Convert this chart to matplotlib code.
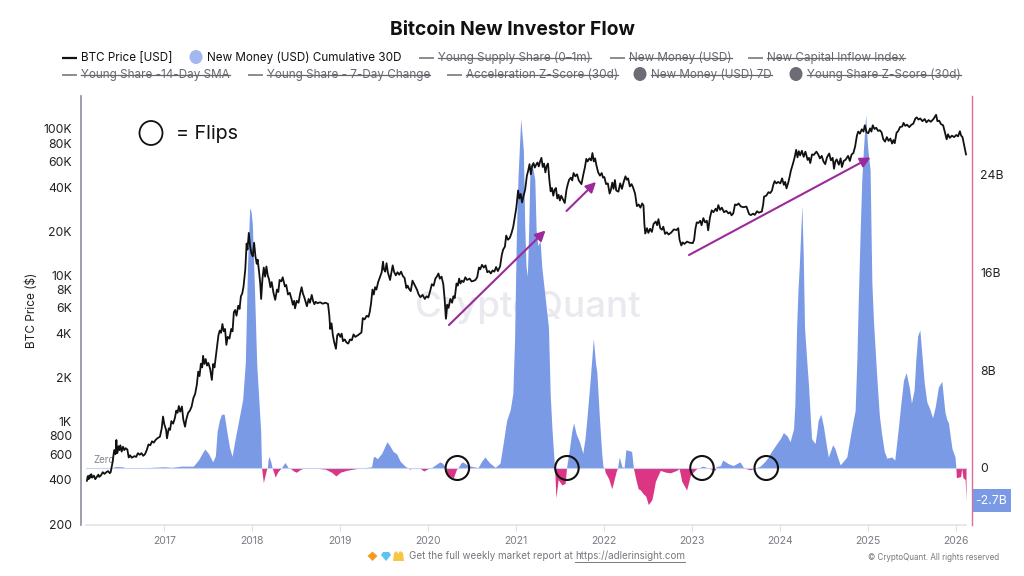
import matplotlib
matplotlib.use("Agg")
import matplotlib.pyplot as plt
from matplotlib.patches import Ellipse, Polygon, Rectangle

plt.rcParams["font.family"] = ["Inter", "DejaVu Sans"]

# BTC price, (decimal year, USD)
btc_2016 = [(2016.12, 395), (2016.13, 425), (2016.14, 405), (2016.15, 430), (2016.16, 415), (2016.17, 438), (2016.18, 415),
            (2016.2, 428), (2016.215, 405), (2016.23, 418), (2016.25, 435), (2016.26, 420), (2016.28, 430), (2016.3, 452),
            (2016.32, 440), (2016.34, 452), (2016.36, 460), (2016.38, 445), (2016.39, 452), (2016.41, 520), (2016.43, 640),
            (2016.445, 600), (2016.455, 750), (2016.465, 610), (2016.48, 680), (2016.49, 640), (2016.5, 690), (2016.515, 625),
            (2016.53, 675), (2016.545, 640), (2016.56, 660), (2016.58, 645), (2016.595, 570), (2016.61, 590), (2016.63, 568),
            (2016.66, 582), (2016.68, 575), (2016.7, 610), (2016.72, 595), (2016.74, 610), (2016.76, 585), (2016.78, 600),
            (2016.8, 640), (2016.82, 700), (2016.84, 690), (2016.86, 735), (2016.88, 720), (2016.9, 750), (2016.92, 770),
            (2016.95, 790), (2016.97, 900), (2016.985, 1085)]
btc_2017 = [(2017.0, 960), (2017.02, 880), (2017.03, 770), (2017.05, 900), (2017.065, 880), (2017.08, 1010), (2017.1, 970),
            (2017.12, 1060), (2017.135, 1190), (2017.15, 1150), (2017.165, 1280), (2017.18, 1170), (2017.2, 1270),
            (2017.215, 1040), (2017.235, 925), (2017.25, 1040), (2017.27, 1150), (2017.29, 1190), (2017.31, 1270),
            (2017.33, 1450), (2017.35, 1550), (2017.37, 1800), (2017.385, 2200), (2017.4, 2050), (2017.415, 2490),
            (2017.43, 2350), (2017.44, 2820), (2017.455, 2480), (2017.47, 2680), (2017.485, 2420), (2017.5, 2520),
            (2017.52, 2300), (2017.54, 1930), (2017.555, 2480), (2017.57, 2350), (2017.585, 2800), (2017.6, 3300),
            (2017.615, 3900), (2017.63, 4200), (2017.645, 4050), (2017.66, 4650), (2017.675, 4150), (2017.69, 4300),
            (2017.705, 3350), (2017.72, 3800), (2017.74, 3700), (2017.76, 4300), (2017.775, 4150), (2017.79, 5600),
            (2017.805, 5800), (2017.82, 5300), (2017.84, 6200), (2017.855, 5900), (2017.87, 7200), (2017.885, 7500),
            (2017.9, 8400), (2017.92, 11000), (2017.935, 16500), (2017.945, 15000), (2017.96, 19500), (2017.975, 15800),
            (2017.99, 14100)]
btc_2018 = [(2018.005, 13500), (2018.02, 16700), (2018.035, 13500), (2018.05, 12000), (2018.06, 12800), (2018.075, 10800),
            (2018.09, 8800), (2018.1, 6900), (2018.115, 9500), (2018.13, 11300), (2018.145, 9800), (2018.16, 11500),
            (2018.175, 10000), (2018.19, 9400), (2018.205, 8300), (2018.22, 9000), (2018.24, 7600), (2018.26, 6800),
            (2018.28, 8000), (2018.295, 7700), (2018.31, 9300), (2018.33, 9100), (2018.345, 9700), (2018.37, 8400),
            (2018.385, 8600), (2018.405, 7400), (2018.425, 7600), (2018.445, 6900), (2018.46, 6300), (2018.475, 6700),
            (2018.485, 5950), (2018.505, 6700), (2018.525, 6500), (2018.545, 7600), (2018.56, 8300), (2018.575, 7500),
            (2018.59, 7100), (2018.605, 6600), (2018.62, 6150), (2018.64, 6900), (2018.655, 6500), (2018.675, 7350),
            (2018.69, 6700), (2018.705, 6350), (2018.72, 6600), (2018.74, 6450), (2018.77, 6550), (2018.8, 6400),
            (2018.83, 6500), (2018.86, 6380), (2018.875, 5300), (2018.885, 4300), (2018.9, 4700), (2018.915, 3900),
            (2018.93, 3500), (2018.95, 3150), (2018.965, 3900), (2018.98, 4000)]
btc_2019 = [(2019.0, 3800), (2019.015, 4000), (2019.03, 3550), (2019.05, 3650), (2019.07, 3480), (2019.09, 3420), (2019.11, 3650),
            (2019.13, 3600), (2019.15, 3950), (2019.17, 3800), (2019.2, 3900), (2019.24, 4070), (2019.255, 5100), (2019.275, 5000),
            (2019.3, 5300), (2019.32, 5200), (2019.335, 5650), (2019.35, 6500), (2019.365, 8000), (2019.38, 7400), (2019.395, 8300),
            (2019.41, 8000), (2019.43, 9000), (2019.45, 9700), (2019.47, 10500), (2019.485, 12400), (2019.495, 11000),
            (2019.51, 10600), (2019.525, 12100), (2019.54, 10500), (2019.565, 9300), (2019.58, 10400), (2019.595, 11700),
            (2019.61, 10600), (2019.63, 10000), (2019.65, 10500), (2019.67, 10100), (2019.69, 10600), (2019.71, 9900),
            (2019.73, 9600), (2019.75, 8200), (2019.765, 8500), (2019.78, 8100), (2019.8, 7800), (2019.82, 9200), (2019.84, 8700),
            (2019.87, 8000), (2019.89, 7400), (2019.91, 7100), (2019.935, 7350), (2019.96, 6900), (2019.98, 7200)]
btc_2020 = [(2020.0, 7050), (2020.02, 7800), (2020.04, 8700), (2020.06, 8500), (2020.08, 9500), (2020.1, 9900), (2020.115, 10300),
            (2020.13, 9500), (2020.15, 9800), (2020.17, 8700), (2020.185, 6900), (2020.2, 5050), (2020.215, 6300), (2020.23, 6000),
            (2020.25, 6900), (2020.27, 6500), (2020.285, 7200), (2020.3, 7000), (2020.32, 8800), (2020.335, 8500), (2020.35, 9500),
            (2020.365, 8800), (2020.38, 9200), (2020.4, 9000), (2020.42, 9700), (2020.44, 9300), (2020.47, 9500), (2020.49, 9100),
            (2020.51, 9150), (2020.535, 9300), (2020.555, 9700), (2020.575, 11300), (2020.59, 11000), (2020.61, 11800),
            (2020.63, 11300), (2020.65, 11700), (2020.67, 10500), (2020.69, 10700), (2020.71, 10300), (2020.73, 10800),
            (2020.75, 10600), (2020.77, 11400), (2020.79, 10700), (2020.815, 11500), (2020.835, 13800), (2020.85, 15000),
            (2020.87, 15700), (2020.885, 18700), (2020.905, 17500), (2020.925, 18000), (2020.945, 19400), (2020.965, 21500),
            (2020.985, 25500)]
btc_2021 = [(2021.0, 29000), (2021.02, 38000), (2021.035, 33500), (2021.05, 36000), (2021.065, 31500), (2021.08, 34500),
            (2021.1, 38500), (2021.12, 48000), (2021.135, 52000), (2021.15, 57500), (2021.165, 49000), (2021.18, 56000),
            (2021.195, 58500), (2021.21, 54500), (2021.225, 57000), (2021.24, 59000), (2021.255, 55500), (2021.27, 60000),
            (2021.285, 63500), (2021.3, 55000), (2021.315, 58000), (2021.33, 50500), (2021.345, 56000), (2021.36, 58000),
            (2021.375, 45000), (2021.39, 37500), (2021.405, 39500), (2021.42, 35000), (2021.435, 38500), (2021.45, 39500),
            (2021.465, 33500), (2021.48, 35500), (2021.495, 32500), (2021.51, 35000), (2021.53, 33000), (2021.55, 31200),
            (2021.57, 38500), (2021.585, 42000), (2021.6, 45000), (2021.62, 46500), (2021.635, 44500), (2021.65, 50000),
            (2021.67, 47500), (2021.69, 49000), (2021.71, 44500), (2021.74, 42000), (2021.76, 48500), (2021.78, 55000),
            (2021.795, 62500), (2021.81, 60000), (2021.83, 63000), (2021.85, 61000), (2021.865, 68500), (2021.88, 60000),
            (2021.895, 63000), (2021.91, 56500), (2021.93, 50500), (2021.95, 48000), (2021.97, 50000), (2021.985, 46500)]
btc_2022 = [(2022.0, 47000), (2022.02, 42000), (2022.04, 42500), (2022.06, 36200), (2022.075, 38500), (2022.09, 43000),
            (2022.105, 39000), (2022.12, 44800), (2022.135, 38000), (2022.16, 37300), (2022.18, 42500), (2022.2, 39000),
            (2022.22, 43500), (2022.24, 47500), (2022.255, 45000), (2022.27, 46000), (2022.29, 40500), (2022.31, 42000),
            (2022.33, 39300), (2022.35, 36000), (2022.37, 29700), (2022.39, 30500), (2022.41, 29000), (2022.43, 31000),
            (2022.445, 30000), (2022.455, 22500), (2022.465, 19300), (2022.485, 21000), (2022.5, 19500), (2022.52, 20800),
            (2022.54, 19800), (2022.56, 22500), (2022.585, 23300), (2022.6, 22000), (2022.615, 24200), (2022.635, 21000),
            (2022.655, 20500), (2022.67, 21500), (2022.69, 19200), (2022.71, 19700), (2022.73, 19000), (2022.76, 19600),
            (2022.79, 20600), (2022.82, 20400), (2022.84, 21000), (2022.855, 17500), (2022.875, 16000), (2022.89, 16800),
            (2022.91, 16400), (2022.94, 17000), (2022.97, 16700)]
btc_2023 = [(2023.005, 16600), (2023.02, 17500), (2023.035, 20800), (2023.05, 23000), (2023.07, 22800), (2023.09, 23600),
            (2023.105, 22000), (2023.125, 24600), (2023.145, 23000), (2023.165, 23600), (2023.18, 20300), (2023.2, 24800),
            (2023.22, 27800), (2023.24, 27000), (2023.265, 28500), (2023.28, 27500), (2023.295, 30200), (2023.315, 28000),
            (2023.335, 29000), (2023.36, 27000), (2023.385, 27600), (2023.41, 26500), (2023.43, 27000), (2023.445, 25700),
            (2023.465, 26500), (2023.485, 30500), (2023.505, 30200), (2023.525, 31000), (2023.55, 29600), (2023.58, 29200),
            (2023.615, 29500), (2023.645, 26200), (2023.665, 25800), (2023.69, 26400), (2023.71, 25900), (2023.735, 27400),
            (2023.755, 26800), (2023.79, 27300), (2023.805, 30500), (2023.815, 34500), (2023.84, 35000), (2023.865, 37000),
            (2023.885, 36500), (2023.905, 38000), (2023.92, 41500), (2023.935, 44000), (2023.955, 42500), (2023.975, 43500)]
btc_2024 = [(2024.0, 42500), (2024.02, 46000), (2024.04, 41500), (2024.055, 43500), (2024.07, 39300), (2024.09, 43000),
            (2024.105, 47000), (2024.12, 52000), (2024.14, 57000), (2024.16, 63000), (2024.18, 72000), (2024.195, 64000),
            (2024.21, 70500), (2024.225, 66000), (2024.245, 71000), (2024.265, 64500), (2024.285, 70000), (2024.31, 61500),
            (2024.325, 63500), (2024.34, 58500), (2024.36, 67000), (2024.38, 66500), (2024.41, 70000), (2024.43, 67000),
            (2024.45, 63000), (2024.47, 65500), (2024.49, 60000), (2024.51, 57500), (2024.53, 64000), (2024.555, 68000),
            (2024.575, 61000), (2024.595, 63500), (2024.61, 53500), (2024.625, 60000), (2024.64, 62000), (2024.665, 57000),
            (2024.685, 63000), (2024.7, 55000), (2024.72, 60500), (2024.74, 61500), (2024.77, 65500), (2024.79, 60500),
            (2024.81, 67000), (2024.83, 68500), (2024.85, 76000), (2024.87, 90000), (2024.885, 96000), (2024.905, 93000),
            (2024.925, 99500), (2024.945, 96000), (2024.96, 106000), (2024.98, 95000)]
btc_2025 = [(2025.0, 93500), (2025.02, 101000), (2025.035, 96000), (2025.05, 106000), (2025.07, 100000), (2025.09, 102000),
            (2025.11, 97000), (2025.13, 98000), (2025.15, 95000), (2025.17, 85000), (2025.19, 82000), (2025.21, 88000),
            (2025.23, 83000), (2025.25, 86000), (2025.27, 79500), (2025.285, 84000), (2025.3, 80000), (2025.32, 94000),
            (2025.34, 97000), (2025.36, 103000), (2025.385, 104000), (2025.4, 110000), (2025.42, 105000), (2025.44, 107000),
            (2025.465, 103000), (2025.49, 107000), (2025.51, 108500), (2025.535, 118000), (2025.55, 120000), (2025.57, 116000),
            (2025.59, 118000), (2025.615, 113000), (2025.64, 117000), (2025.66, 111000), (2025.685, 115000), (2025.71, 112000),
            (2025.74, 117000), (2025.77, 125000), (2025.785, 113000), (2025.805, 114000), (2025.825, 108000), (2025.85, 106000),
            (2025.87, 95000), (2025.89, 85000), (2025.905, 92000), (2025.925, 87000), (2025.95, 90000), (2025.975, 88000),
            (2026.0, 91000), (2026.02, 89000), (2026.04, 96500), (2026.055, 90000), (2026.07, 88000), (2026.09, 77000),
            (2026.11, 67000)]

# New Money cumulative 30D, (decimal year, billions USD)
flow_2016 = [(2016.12, 0.01), (2016.4, 0.02), (2016.45, 0.12), (2016.52, 0.1), (2016.56, 0.02), (2016.8, 0.03),
             (2017.0, 0.1), (2017.08, 0.05), (2017.2, 0.15), (2017.33, 0.15)]
flow_2017 = [(2017.39, 0.68), (2017.43, 1.2), (2017.46, 1.55), (2017.5, 1.2), (2017.55, 0.5), (2017.58, 1.0), (2017.6, 3.0),
             (2017.625, 3.9), (2017.65, 4.4), (2017.68, 4.4), (2017.71, 3.0), (2017.74, 1.7), (2017.77, 0.95), (2017.8, 2.2),
             (2017.84, 3.7), (2017.89, 5.6), (2017.92, 8.6), (2017.945, 16.5), (2017.97, 21.3), (2017.985, 21.0), (2018.0, 20.0),
             (2018.025, 14.5), (2018.05, 8.5), (2018.08, 4.8), (2018.095, 3.0), (2018.105, 0.0)]
flow_2018 = [(2018.125, -1.2), (2018.16, -0.15), (2018.17, 0.0), (2018.18, 0.7), (2018.19, 0.95), (2018.21, 0.5), (2018.225, 0.0),
             (2018.24, -0.3), (2018.26, -0.75), (2018.29, -0.3), (2018.315, -0.1), (2018.33, 0.0), (2018.37, 0.45), (2018.41, 0.0),
             (2018.435, -0.05), (2018.47, -0.25), (2018.5, -0.35), (2018.54, -0.15), (2018.575, -0.03), (2018.7, 0.0),
             (2018.83, -0.1), (2018.9, -0.35), (2018.95, -0.65), (2019.0, -0.35), (2019.07, -0.2), (2019.2, -0.03)]
flow_2019 = [(2019.25, 0.0), (2019.355, 0.1), (2019.375, 0.9), (2019.39, 0.95), (2019.42, 0.75), (2019.47, 1.2), (2019.53, 2.15),
             (2019.56, 1.85), (2019.6, 1.35), (2019.64, 1.15), (2019.68, 0.55), (2019.735, 0.15), (2019.77, 0.0),
             (2019.79, -0.1), (2019.82, 0.0), (2019.85, 0.05), (2019.9, 0.0), (2019.95, -0.25), (2020.01, 0.0), (2020.04, 0.05)]
flow_2020 = [(2020.09, 0.3), (2020.13, 0.5), (2020.16, 0.4), (2020.19, 0.12), (2020.2, 0.0), (2020.21, -0.55), (2020.285, -0.8),
             (2020.32, -0.1), (2020.335, 0.0), (2020.37, 0.4), (2020.39, 0.5), (2020.42, 0.35), (2020.45, 0.2), (2020.565, 0.03),
             (2020.61, 0.6), (2020.645, 0.9), (2020.67, 0.65), (2020.7, 0.4), (2020.76, 0.05), (2020.815, 0.4), (2020.85, 2.0),
             (2020.89, 3.9), (2020.93, 4.75), (2020.96, 6.1), (2020.98, 10.5)]
flow_2021 = [(2021.0, 19.0), (2021.02, 24.0), (2021.05, 28.6), (2021.08, 26.0), (2021.095, 20.0), (2021.11, 16.5), (2021.125, 15.7),
             (2021.14, 19.5), (2021.155, 24.5), (2021.175, 25.0), (2021.21, 23.6), (2021.225, 19.5), (2021.245, 18.2),
             (2021.27, 18.6), (2021.29, 16.4), (2021.33, 13.8), (2021.365, 11.5), (2021.385, 6.0), (2021.405, 3.2), (2021.425, 1.0),
             (2021.435, 0.0), (2021.45, -2.45), (2021.475, -0.95), (2021.52, -1.4), (2021.555, -1.25), (2021.57, 0.0),
             (2021.6, 1.4), (2021.63, 3.0), (2021.65, 3.7), (2021.68, 2.8), (2021.72, 2.1), (2021.755, 1.2), (2021.78, 2.4),
             (2021.8, 3.9), (2021.84, 7.3), (2021.875, 10.6), (2021.9, 8.6), (2021.915, 7.8), (2021.945, 4.0), (2021.97, 1.2),
             (2021.985, 0.1)]
flow_2022 = [(2022.0, 0.0), (2022.01, -0.35), (2022.05, -0.9), (2022.085, -1.7), (2022.135, -0.27), (2022.15, 0.0), (2022.17, 0.9),
             (2022.2, 0.1), (2022.225, 0.05), (2022.245, 1.5), (2022.31, 1.35), (2022.33, 0.0), (2022.36, -1.0), (2022.385, -1.7),
             (2022.41, -1.8), (2022.44, -2.1), (2022.47, -2.3), (2022.5, -3.0), (2022.54, -2.6), (2022.56, -1.9), (2022.58, -1.1),
             (2022.635, -0.2), (2022.7, -0.35), (2022.75, -0.4), (2022.82, -0.2), (2022.85, -0.05), (2022.88, -1.1),
             (2022.935, -1.8), (2022.98, -0.55)]
flow_2023 = [(2023.05, -0.05), (2023.07, 0.0), (2023.12, 0.15), (2023.18, 0.0), (2023.2, -0.05), (2023.255, -0.2),
             (2023.27, 0.1), (2023.32, 0.2), (2023.345, 0.65), (2023.41, 0.35), (2023.465, 0.2), (2023.54, 0.5), (2023.585, 0.0),
             (2023.655, -0.15), (2023.7, -0.05), (2023.72, 0.0), (2023.77, 0.15), (2023.82, 0.5), (2023.865, 0.9), (2023.885, 1.2),
             (2023.96, 2.0)]
flow_2024 = [(2024.0, 2.4), (2024.035, 2.9), (2024.08, 2.6), (2024.11, 2.15), (2024.15, 3.2), (2024.165, 5.2), (2024.185, 11.5),
             (2024.2, 14.5), (2024.215, 16.5), (2024.245, 21.5), (2024.26, 17.5), (2024.275, 11.5), (2024.3, 8.8), (2024.32, 6.8),
             (2024.34, 4.2), (2024.355, 2.4), (2024.395, 2.0), (2024.415, 3.0), (2024.43, 3.9), (2024.46, 4.4), (2024.49, 3.4),
             (2024.52, 2.0), (2024.545, 0.9), (2024.595, 1.9), (2024.62, 1.6), (2024.65, 0.9), (2024.68, 0.25), (2024.755, 0.9),
             (2024.81, 3.2), (2024.85, 4.7), (2024.87, 9.0), (2024.885, 13.5), (2024.905, 18.8), (2024.925, 23.5), (2024.945, 26.2),
             (2024.97, 28.9)]
flow_2025 = [(2024.99, 26.5), (2025.0, 25.7), (2025.02, 24.4), (2025.04, 15.2), (2025.06, 11.8), (2025.08, 9.4), (2025.1, 7.0),
             (2025.125, 4.3), (2025.15, 2.85), (2025.18, 1.4), (2025.21, 0.8), (2025.265, 0.9), (2025.3, 0.65), (2025.34, 3.2),
             (2025.37, 5.3), (2025.4, 7.2), (2025.43, 7.8), (2025.465, 6.6), (2025.49, 5.3), (2025.52, 6.4), (2025.54, 8.9),
             (2025.56, 10.8), (2025.585, 11.3), (2025.61, 9.2), (2025.635, 7.0), (2025.665, 5.4), (2025.7, 4.8), (2025.73, 4.1),
             (2025.76, 5.0), (2025.795, 6.6), (2025.835, 7.1), (2025.87, 4.6), (2025.89, 4.0), (2025.91, 3.7), (2025.95, 1.6),
             (2025.985, 0.9), (2025.995, 0.0), (2026.0, -0.8), (2026.05, -0.7), (2026.06, 0.0), (2026.075, -0.8),
             (2026.1, -0.95), (2026.11, -2.7)]

price_ticks = [200, 400, 600, 800, 1000, 2000, 4000, 6000, 8000, 10000, 20000, 40000, 60000, 80000, 100000]
price_labels = ["200", "400", "600", "800", "1K", "2K", "4K", "6K", "8K", "10K", "20K", "40K", "60K", "80K", "100K"]
flow_ticks = [0, 8, 16, 24]
flow_labels = ["0", "8B", "16B", "24B"]
years = list(range(2017, 2027))
flip_dates = [2020.33, 2021.575, 2023.11, 2023.84]

legend_row1 = [("line", 62, "BTC Price [USD]", False), ("dot", 196, "New Money (USD) Cumulative 30D", False),
               ("line", 419, "Young Supply Share (0–1m)", True), ("line", 610, "New Money (USD)", True),
               ("line", 748, "New Capital Inflow Index", True)]
legend_row2 = [("line", 62, "Young Share -14-Day SMA", True), ("line", 248, "Young Share - 7-Day Change", True),
               ("line", 447, "Acceleration Z-Score (30d)", True), ("dot", 640, "New Money (USD) 7D", True),
               ("dot", 796, "Young Share Z-Score (30d)", True)]

BLUE = "#7b9ae6"
PINK = "#dc3584"
PURPLE = "#9b2a9b"
GREY = "#7b7b85"


def unpack(*parts):
    xs, ys = [], []
    for part in parts:
        for x, y in part:
            xs.append(x)
            ys.append(y)
    return xs, ys


btc_x, btc_y = unpack(btc_2016, btc_2017, btc_2018, btc_2019, btc_2020, btc_2021, btc_2022, btc_2023, btc_2024, btc_2025)
flow_x, flow_y = unpack(flow_2016, flow_2017, flow_2018, flow_2019, flow_2020, flow_2021, flow_2022, flow_2023,
                        flow_2024, flow_2025)
flow_pos = [max(v, 0) for v in flow_y]
flow_neg = [min(v, 0) for v in flow_y]

fig = plt.figure(figsize=(10.24, 5.76), dpi=100, facecolor="white")
fig.text(527.5 / 1024, 1 - 308 / 576, "CryptoQuant", fontsize=26.5, fontweight="medium", color="#e9e9ef",
         ha="center", va="center", zorder=-1)

ax = fig.add_axes([81 / 1024, 1 - 525 / 576, 891 / 1024, 429 / 576])
ax_flow = ax.twinx()
ax.set_zorder(ax_flow.get_zorder() + 1)
ax.patch.set_visible(False)
ax_flow.patch.set_visible(False)

# flow first, price on top
ax_flow.fill_between(flow_x, 0, flow_pos, color=BLUE, lw=0)
ax_flow.fill_between(flow_x, 0, flow_neg, color=PINK, lw=0)
ax_flow.plot([2016.11, 2026.11], [0, 0], color="#c8d3f3", lw=0.8, zorder=1)
ax.plot(btc_x, btc_y, color="#111111", lw=1.3, solid_joinstyle="round")

ax.set_xlim(2016.053, 2026.178)
ax.set_yscale("log")
ax.set_ylim(197, 168000)
ax_flow.set_ylim(-4.67, 30.45)

ax.set_yticks(price_ticks)
ax.set_yticklabels(price_labels)
ax.minorticks_off()
ax.tick_params(axis="y", length=0, pad=6.5, labelsize=8.8, labelcolor="#222222")
ax.set_xticks(years)
ax.set_xticklabels([str(y) for y in years])
ax.tick_params(axis="x", length=4, width=0.8, color="#dfe0e6", pad=4, labelsize=7.5, labelcolor=GREY)
ax_flow.set_yticks(flow_ticks)
ax_flow.set_yticklabels(flow_labels)
ax_flow.tick_params(axis="y", length=0, pad=6, labelsize=8.8, labelcolor="#222222")
ax.set_ylabel("BTC Price ($)", fontsize=8.5, color="#222222", labelpad=0)
ax.yaxis.set_label_coords((38 - 81) / 891, 0.5)

for a in (ax, ax_flow):
    for side in ("top", "bottom", "left", "right"):
        a.spines[side].set_visible(False)
ax.spines["left"].set_visible(True)
ax.spines["left"].set_color("#8d8d9b")
ax.spines["left"].set_linewidth(1.2)
ax_flow.spines["right"].set_visible(True)
ax_flow.spines["right"].set_color("#dc6e97")
ax_flow.spines["right"].set_linewidth(1.0)

ax_flow.annotate("Zero", (2016.31, 0), xytext=(0, 2), textcoords="offset points", fontsize=7, color="#85858f",
                 ha="center", va="bottom")

# overlay in pixel coords for annotations
ov = fig.add_axes([0, 0, 1, 1], zorder=10)
ov.set_xlim(0, 1024)
ov.set_ylim(576, 0)
ov.axis("off")

ov.plot([86, 966], [525, 525], color="#e2e3e8", lw=1.2)
for d in flip_dates:
    cx = ax_flow.transData.transform((d, 0))[0]
    ov.add_patch(Ellipse((cx, 468), 23.5, 24, fill=False, ec="#111111", lw=1.5))
ov.add_patch(Ellipse((151, 133), 23, 24, fill=False, ec="#111111", lw=1.3))
ov.text(176, 134, "= Flips", fontsize=14.2, color="#111111", va="center", ha="left")

for start, end in [((449, 325), (545.5, 230.5)), ((566.5, 211), (596, 182)), ((689, 255), (870.5, 157.5))]:
    ov.annotate("", xy=end, xytext=start,
                arrowprops=dict(arrowstyle="-|>,head_length=0.55,head_width=0.28", color=PURPLE, lw=1.5,
                                shrinkA=0, shrinkB=0, mutation_scale=11))

# last value tag on the right axis
ov.add_patch(Rectangle((972.5, 489), 38, 23, fc=BLUE, ec="none"))
ov.text(991.5, 501, "-2.7B", fontsize=8.8, color="white", ha="center", va="center")

# title and legend
ov.text(512, 30, "Bitcoin New Investor Flow", fontsize=13.9, fontweight="bold", color="#111111", ha="center", va="center")


def legend_row(items, y):
    renderer = fig.canvas.get_renderer()
    for kind, x, label, off in items:
        key_color = "#6c6c76" if off else "#111111"
        if kind == "line":
            ov.plot([x, x + 15], [y, y], color=key_color, lw=1.1 if off else 1.6, solid_capstyle="butt")
            tx = x + 19
        else:
            col = "#6c6c76" if off else "#a3b8ee"
            ov.add_patch(Ellipse((x, y - 1), 13, 14, fc=col, ec="none"))
            tx = x + 11
        t = ov.text(tx, y, label, fontsize=8.42, color="#66666e" if off else "#111111", ha="left", va="center")
        if off:
            bb = t.get_window_extent(renderer)
            ov.plot([bb.x0, bb.x1], [y, y], color="#66666e", lw=0.9)


legend_row(legend_row1, 58)
legend_row(legend_row2, 75)

# footer, emoji drawn as small shapes
ov.add_patch(Polygon([(372.5, 551.5), (377.5, 556), (372.5, 561), (367.5, 556)], fc="#f59a23", ec="none"))
ov.add_patch(Polygon([(383, 552), (389, 552), (391, 555), (386, 561), (381, 555)], fc="#5cc4ee", ec="none"))
ov.add_patch(Polygon([(393, 561), (394, 553), (397, 551), (398, 554), (400, 551), (403, 553), (404, 561)],
                     fc="#f7c642", ec="none"))
ov.text(409, 556, "Get the full weekly market report at", fontsize=7.05, color="#77777f", ha="left", va="center")
u = ov.text(575, 556, "https://adlerinsight.com", fontsize=7.05, color="#77777f", ha="left", va="center")
bb = u.get_window_extent(fig.canvas.get_renderer())
ov.plot([bb.x0, bb.x1], [561.5, 561.5], color="#77777f", lw=0.7)
ov.text(999, 558, "© CryptoQuant. All rights reserved", fontsize=5.75, color="#77777f", ha="right", va="center")

fig.savefig("out.png", dpi=100)
